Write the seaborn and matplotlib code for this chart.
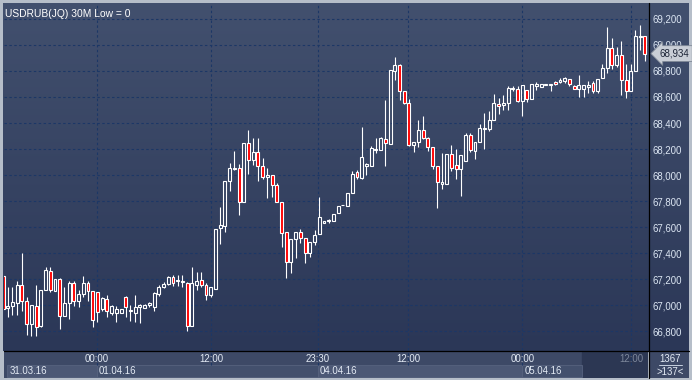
import matplotlib
matplotlib.use("Agg")
import matplotlib.pyplot as plt
import matplotlib.ticker as mticker
import matplotlib.transforms as mtransforms
from matplotlib.colors import LinearSegmentedColormap
from matplotlib.lines import Line2D
import numpy as np
import pandas as pd
import seaborn as sns

# USDRUB 30M candles (137 visible bars)
opens = [67226, 66974, 66992, 67013, 67156, 67028, 66854, 66992, 66841, 67115,
         67259, 67110, 67200, 66915, 67013, 67167, 67028, 67085, 67169, 67110,
         67097, 66969, 67046, 66938, 66938, 66938, 67059, 66956, 66938, 66987,
         66977, 67000, 66987, 67085, 67141, 67162, 67213, 67187, 67180, 67169,
         66841, 67154, 67192, 67154, 67077, 67123, 67592, 67605, 67951, 68049,
         68054, 67792, 68246, 68113, 68177, 68067, 67982, 67997, 67926, 67792,
         67562, 67331, 67508, 67562, 67515, 67400, 67485, 67546, 67631, 67645,
         67649, 67710, 67770, 67762, 67864, 68026, 67979, 68069, 68069, 68195,
         68192, 68279, 68241, 68800, 68844, 68646, 68556, 68231, 68256, 68344,
         68287, 68218, 68069, 67931, 67933, 68164, 68074, 68049, 68108, 68310,
         68185, 68256, 68356, 68351, 68426, 68546, 68536, 68554, 68659, 68664,
         68572, 68656, 68587, 68687, 68677, 68692, 68695, 68713, 68713, 68721,
         68738, 68687, 68664, 68664, 68674, 68708, 68649, 68746, 68823, 68977,
         68849, 68920, 68733, 68644, 68797, 69059, 69067]
highs = [67240, 67136, 67136, 67187, 67400, 67059, 66997, 67156, 67115, 67295,
         67290, 67200, 67205, 67136, 67182, 67182, 67115, 67226, 67182, 67110,
         67100, 67064, 67079, 67000, 66995, 66969, 67072, 67003, 67077, 67005,
         67005, 67025, 67097, 67156, 67179, 67220, 67231, 67231, 67231, 67175,
         67290, 67256, 67256, 67167, 67136, 67587, 67754, 67956, 68092, 68182,
         68085, 68246, 68349, 68285, 68285, 68131, 68054, 67997, 67938, 67792,
         67562, 67508, 67562, 67587, 67515, 67485, 67580, 67831, 67649, 67660,
         67700, 67762, 67772, 67864, 68031, 68038, 68372, 68095, 68223, 68287,
         68295, 68574, 68805, 68908, 68851, 68646, 68587, 68256, 68420, 68454,
         68290, 68218, 68069, 68172, 68164, 68231, 68197, 68156, 68321, 68326,
         68256, 68390, 68480, 68492, 68626, 68592, 68618, 68682, 68682, 68682,
         68690, 68656, 68700, 68713, 68700, 68700, 68703, 68721, 68746, 68751,
         68738, 68695, 68772, 68695, 68720, 68720, 68738, 68856, 69138, 69054,
         68985, 69033, 68856, 68856, 69118, 69156, 69067]
lows = [66960, 66905, 66925, 66925, 66956, 66770, 66760, 66764, 66833, 67115,
        67097, 67110, 66815, 66915, 66890, 66995, 66987, 67059, 67033, 66833,
        66867, 66956, 66910, 66926, 66867, 66938, 66910, 66879, 66867, 66861,
        66977, 66987, 66951, 67072, 67133, 67155, 67149, 67149, 67136, 66803,
        66841, 67118, 67136, 67038, 67059, 67123, 67469, 67562, 67879, 68041,
        67690, 67792, 68010, 68080, 67951, 67972, 67823, 67828, 67792, 67444,
        67208, 67246, 67362, 67477, 67323, 67367, 67464, 67546, 67631, 67630,
        67649, 67705, 67768, 67762, 67864, 67967, 67972, 67997, 68069, 68167,
        68192, 68069, 68241, 68728, 68574, 68544, 68223, 68179, 68218, 68279,
        68185, 68044, 67744, 67890, 67933, 68031, 67967, 67838, 68108, 68177,
        68121, 68256, 68200, 68340, 68426, 68472, 68503, 68497, 68644, 68562,
        68451, 68562, 68587, 68656, 68677, 68690, 68644, 68695, 68708, 68708,
        68687, 68662, 68597, 68597, 68631, 68631, 68631, 68746, 68785, 68815,
        68831, 68618, 68592, 68644, 68797, 68964, 68874]
closes = [66970, 66992, 67023, 67156, 67028, 66854, 66997, 66833, 67115, 67269,
          67115, 67200, 66915, 67013, 67167, 67028, 67085, 67169, 67105, 66887,
          66949, 67054, 66954, 66992, 66969, 66969, 66987, 66964, 66987, 67000,
          67000, 67015, 67090, 67141, 67162, 67215, 67169, 67195, 67187, 66841,
          67169, 67187, 67154, 67077, 67136, 67587, 67618, 67956, 68054, 68054,
          67792, 68246, 68113, 68177, 68067, 67982, 67997, 67926, 67792, 67554,
          67331, 67508, 67562, 67515, 67400, 67485, 67541, 67677, 67649, 67655,
          67700, 67762, 67770, 67864, 68010, 67987, 68141, 68082, 68210, 68203,
          68287, 68249, 68805, 68846, 68646, 68556, 68231, 68256, 68344, 68287,
          68218, 68069, 67946, 67944, 68164, 68056, 68049, 68156, 68305, 68190,
          68256, 68364, 68364, 68426, 68554, 68533, 68554, 68669, 68669, 68572,
          68690, 68587, 68700, 68703, 68700, 68698, 68703, 68700, 68733, 68746,
          68700, 68662, 68695, 68695, 68695, 68649, 68738, 68823, 68977, 68849,
          68920, 68733, 68644, 68797, 69067, 69067, 68934]

price_ticks = [66800, 67000, 67200, 67400, 67600, 67800, 68000, 68200, 68400,
               68600, 68800, 69000, 69200]
time_ticks = [19.9, 44.1, 66.7, 85.8, 110.0, 133.05]
time_labels = ["00:00", "12:00", "23:30", "12:00", "00:00", "12:00"]
date_labels = ["31.03.16", "01.04.16", "04.04.16", "05.04.16"]
date_spans = [(0.85, 19.9), (19.9, 66.7), (66.7, 110.0), (110.0, 122.7)]
title = "USDRUB(JQ) 30M Low = 0"
last_price = 68934
total_bars = 1367
shown_bars = 137

sns.set_style("dark")
plt.rcParams["font.family"] = ["Liberation Sans", "DejaVu Sans"]

W, H = 692, 380
fig = plt.figure(figsize=(W / 100, H / 100), dpi=100, facecolor="#b6bec9")


def box(x0, y0, x1, y1):
    # pixel box, origin top-left -> figure fraction rect
    return [x0 / W, 1 - y1 / H, (x1 - x0) / W, (y1 - y0) / H]


# gradient background behind price area and right scale
bg = fig.add_axes(box(3, 3, 689, 351))
cmap = LinearSegmentedColormap.from_list("bg", ["#42506e", "#2b3757"])
bg.imshow(np.linspace(0, 1, 256).reshape(-1, 1), aspect="auto", cmap=cmap)
bg.set_axis_off()

df = pd.DataFrame({"open": opens, "high": highs, "low": lows, "close": closes})
df["x"] = np.arange(len(df))
df["top"] = df[["open", "close"]].max(axis=1)
df["bot"] = df[["open", "close"]].min(axis=1)
df["down"] = df["close"] < df["open"]

ax = fig.add_axes(box(4, 3, 648, 350))
ax.set_facecolor("none")
for s in ax.spines.values():
    s.set_visible(False)

ax.vlines(df["x"], df["top"], df["high"], color="white", lw=0.8, zorder=3)
ax.vlines(df["x"], df["low"], df["bot"], color="white", lw=0.8, zorder=3)
ax.bar(df["x"], (df["top"] - df["bot"]).clip(lower=1), bottom=df["bot"],
       width=0.62, color=np.where(df["down"], "#ff0000", "none"),
       edgecolor="white", linewidth=0.8, zorder=4)

ax.set_xlim(0.2, 136.65)
ax.set_ylim(66654, 69323)
ax.set_yticks(price_ticks)
ax.yaxis.set_major_formatter(mticker.FuncFormatter(lambda v, p: f"{v:,.0f}"))
ax.set_xticks(time_ticks)
ax.tick_params(axis="x", bottom=False, labelbottom=False)
ax.tick_params(axis="y", left=False, labelleft=False, right=False, labelright=True,
               length=0, pad=3.5, labelsize=6.9, labelcolor="#dce6f3")
ax.grid(True, color="#1c3766", linestyle=(0, (2.2, 2.2)), linewidth=0.8)

ax.text(0.002, 1 - 6 / 347, title, transform=ax.transAxes, ha="left", va="top",
        color="white", fontsize=7.4)

# last price marker on right scale
tr = mtransforms.blended_transform_factory(ax.transAxes, ax.transData)
ax.text(1.018, last_price, f"{last_price:,}", transform=tr, ha="left", va="center",
        fontsize=7, color="#1c2436", clip_on=False, zorder=6,
        bbox=dict(boxstyle="larrow,pad=0.3", fc="#c9ced6", ec="#7f8896", lw=0.6))

# time / date scale
axb = fig.add_axes(box(4, 351, 648, 378), sharex=ax)
axb.set_facecolor("#3d4966")
axb.set_ylim(0, 1)
axb.grid(False)
axb.tick_params(bottom=False, labelbottom=False, left=False, labelleft=False)
for s in axb.spines.values():
    s.set_visible(False)
axb.axvspan(122.7, 136.65, ymin=0.04, ymax=0.96, color="#2c3753")
for i, ((a, b), lab) in enumerate(zip(date_spans, date_labels)):
    fc = "#4c5875" if i % 2 == 0 else "#43506d"
    axb.axvspan(a, b, ymin=0.04, ymax=0.48, fc=fc, ec="#56627e", lw=0.6)
    axb.text(a + 0.45, 0.25, lab, ha="left", va="center", fontsize=6.9, color="#e4ebf5")
axb.vlines(time_ticks, 0.48, 1, color="#1c3766", linestyle=(0, (2.2, 2.2)), lw=0.8)
for t, lab in zip(time_ticks, time_labels):
    c = "#7d879b" if t > 122.7 else "#e4ebf5"
    axb.text(t, 0.7, lab, ha="center", va="center", fontsize=6.9, color=c)

# bar counter corner
axc = fig.add_axes(box(650, 351, 689, 378))
axc.set_facecolor("#3d4966")
axc.set_xlim(0, 1)
axc.set_ylim(0, 1)
axc.set_xticks([])
axc.set_yticks([])
for s in axc.spines.values():
    s.set_visible(False)
axc.text(0.52, 0.72, str(total_bars), ha="center", va="center", fontsize=6.9, color="#e4ebf5")
axc.plot([0.22, 0.82], [0.47, 0.47], color="#c8d2e0", lw=0.7)
axc.text(0.52, 0.24, f">{shown_bars}<", ha="center", va="center", fontsize=6.9, color="#e4ebf5")

# separators
fig.add_artist(Line2D([648.5 / W] * 2, [1 - 3 / H, 1 - 378 / H], color="black", lw=0.9))
fig.add_artist(Line2D([4 / W, 689 / W], [1 - 350.8 / H] * 2, color="black", lw=0.9))

fig.savefig("out.png", dpi=100, facecolor=fig.get_facecolor())
